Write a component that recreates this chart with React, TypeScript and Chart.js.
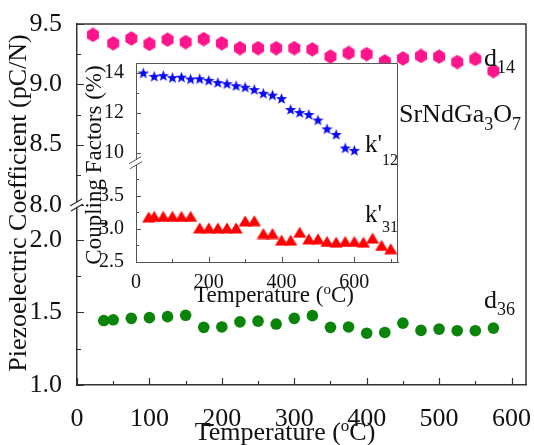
import { useEffect, useRef } from 'react';
import { Chart, registerables } from 'chart.js';

Chart.register(...registerables);

const FAMILY = "'Liberation Serif', 'Times New Roman', serif";
const INK = '#111111';
const AXIS = '#333333';
const INSET_AXIS = '#555555';

// Piezoelectric coefficients d14 / d36 (pC/N) against temperature (°C)
const d14Temps = [22, 50, 75, 100, 125, 150, 175, 200, 225, 250, 275, 300, 325, 350, 375, 400, 425, 450, 475, 500, 525, 550, 575];
const d14Values = [9.41, 9.34, 9.38, 9.335, 9.37, 9.35, 9.375, 9.34, 9.3, 9.3, 9.3, 9.3, 9.29, 9.23, 9.26, 9.25, 9.19, 9.215, 9.235, 9.23, 9.185, 9.21, 9.11];
const d36Temps = [37, 50, 75, 100, 125, 150, 175, 200, 225, 250, 275, 300, 325, 350, 375, 400, 425, 450, 475, 500, 525, 550, 575];
const d36Values = [1.444, 1.449, 1.459, 1.464, 1.471, 1.48, 1.397, 1.4, 1.435, 1.44, 1.42, 1.459, 1.478, 1.397, 1.4, 1.357, 1.362, 1.426, 1.376, 1.385, 1.374, 1.374, 1.392];

// Coupling factors k'12 / k'31 (%) against temperature (°C)
const k12Temps = [20, 50, 75, 100, 125, 150, 175, 200, 225, 250, 275, 300, 325, 350, 375, 400, 425, 450, 475, 500, 525, 550, 575, 600];
const k12Values = [14.0, 13.83, 13.87, 13.77, 13.79, 13.7, 13.71, 13.63, 13.52, 13.46, 13.36, 13.29, 13.17, 12.98, 12.89, 12.72, 12.17, 12.02, 11.92, 11.64, 11.2, 10.92, 10.24, 10.12];
const k31Temps = [35, 50, 75, 100, 125, 150, 175, 200, 225, 250, 275, 300, 325, 350, 375, 400, 425, 450, 475, 500, 525, 550, 575, 600, 625, 650, 675, 700];
const k31Values = [3.18, 3.19, 3.19, 3.19, 3.19, 3.19, 3.015, 3.015, 3.015, 3.015, 3.015, 3.12, 3.125, 2.93, 2.93, 2.83, 2.83, 2.95, 2.85, 2.85, 2.81, 2.8, 2.81, 2.81, 2.8, 2.86, 2.75, 2.7];

// Tick positions
const mainXTicks = [0, 100, 200, 300, 400, 500, 600];
const mainXMinor = [50, 150, 250, 350, 450, 550];
const mainHighTicks = [8.0, 8.5, 9.0, 9.5];
const mainHighMinor = [8.25, 8.75, 9.25];
const mainLowTicks = [1.0, 1.5, 2.0];
const mainLowMinor = [1.25, 1.75];
const insetXTicks = [0, 200, 400, 600];
const insetXMinor = [100, 300, 500, 700];
const insetHighTicks = [10, 12, 14];
const insetHighMinor = [11, 13];
const insetLowTicks = [2.5, 3.0, 3.5];
const insetLowMinor = [2.75, 3.25, 3.75];

const pts = (xs: number[], ys: number[]) => xs.map((x, i) => ({ x, y: ys[i] }));

function markerCanvas(w: number, h: number, draw: (c: CanvasRenderingContext2D) => void) {
  const cv = document.createElement('canvas');
  cv.width = w;
  cv.height = h;
  const c = cv.getContext('2d')!;
  draw(c);
  return cv;
}

function hexagon(color: string) {
  return markerCanvas(14, 15, (c) => {
    c.fillStyle = color;
    c.beginPath();
    for (let k = 0; k < 6; k++) {
      const a = -Math.PI / 2 + (k * Math.PI) / 3;
      const x = 7 + 6.9 * Math.cos(a);
      const y = 7.5 + 7.2 * Math.sin(a);
      if (k === 0) c.moveTo(x, y);
      else c.lineTo(x, y);
    }
    c.closePath();
    c.fill();
  });
}

function star(color: string) {
  return markerCanvas(13, 13, (c) => {
    c.fillStyle = color;
    c.beginPath();
    for (let k = 0; k < 10; k++) {
      const a = -Math.PI / 2 + (k * Math.PI) / 5;
      const r = k % 2 === 0 ? 6 : 2.5;
      const x = 6.5 + r * Math.cos(a);
      const y = 7 + r * Math.sin(a);
      if (k === 0) c.moveTo(x, y);
      else c.lineTo(x, y);
    }
    c.closePath();
    c.fill();
  });
}

function triangle(color: string) {
  return markerCanvas(14, 12, (c) => {
    c.fillStyle = color;
    c.beginPath();
    c.moveTo(7, 0.5);
    c.lineTo(13.6, 11.5);
    c.lineTo(0.4, 11.5);
    c.closePath();
    c.fill();
  });
}

type Run = { t: string; size: number; dy?: number };

function drawRich(ctx: CanvasRenderingContext2D, runs: Run[], x: number, y: number, align: 'left' | 'center') {
  let w = 0;
  for (const r of runs) {
    ctx.font = `${r.size}px ${FAMILY}`;
    w += ctx.measureText(r.t).width;
  }
  let cx = align === 'center' ? x - w / 2 : x;
  ctx.textAlign = 'left';
  for (const r of runs) {
    ctx.font = `${r.size}px ${FAMILY}`;
    ctx.fillText(r.t, cx, y + (r.dy || 0));
    cx += ctx.measureText(r.t).width;
  }
}

function inwardTicks(ctx: CanvasRenderingContext2D, scale: any, values: number[], len: number, horizontal: boolean, area: any) {
  ctx.beginPath();
  for (const v of values) {
    const p = Math.round(scale.getPixelForValue(v)) + 0.5;
    if (horizontal) {
      ctx.moveTo(p, area.bottom);
      ctx.lineTo(p, area.bottom - len);
    } else {
      ctx.moveTo(area.left, p);
      ctx.lineTo(area.left + len, p);
    }
  }
  ctx.stroke();
}

function breakMark(ctx: CanvasRenderingContext2D, x: number, y: number, color: string, width: number) {
  ctx.fillStyle = '#ffffff';
  ctx.fillRect(x - 3, y - 3, 6, 5);
  ctx.strokeStyle = color;
  ctx.lineWidth = width;
  ctx.beginPath();
  ctx.moveTo(x - 7, y + 1);
  ctx.lineTo(x + 5, y - 6);
  ctx.moveTo(x - 6, y + 6);
  ctx.lineTo(x + 6, y - 1);
  ctx.stroke();
}

// Keep label overflow from shrinking the plot area
function fixWidth(w: number) {
  return (s: any) => {
    s.width = w;
    s.paddingTop = 0;
    s.paddingBottom = 0;
  };
}
function fixHeight(h: number) {
  return (s: any) => {
    s.height = h;
    s.paddingLeft = 0;
    s.paddingRight = 0;
  };
}

const mainDecor = {
  id: 'mainDecor',
  afterDraw(chart: any) {
    const { ctx, chartArea: a, scales } = chart;
    ctx.save();
    ctx.strokeStyle = AXIS;
    ctx.lineWidth = 1.5;
    ctx.beginPath();
    ctx.moveTo(a.left, a.top);
    ctx.lineTo(a.right, a.top);
    ctx.lineTo(a.right, a.bottom);
    ctx.stroke();
    ctx.lineWidth = 1.2;
    inwardTicks(ctx, scales.x, mainXTicks, 7, true, a);
    inwardTicks(ctx, scales.x, mainXMinor, 4, true, a);
    inwardTicks(ctx, scales.yHigh, mainHighTicks, 7, false, a);
    inwardTicks(ctx, scales.yHigh, mainHighMinor, 4, false, a);
    inwardTicks(ctx, scales.yLow, mainLowTicks, 7, false, a);
    inwardTicks(ctx, scales.yLow, mainLowMinor, 4, false, a);
    breakMark(ctx, a.left, scales.yHigh.bottom, AXIS, 1.3);

    ctx.fillStyle = INK;
    ctx.textBaseline = 'alphabetic';
    drawRich(ctx, [{ t: 'Temperature (', size: 26 }, { t: 'o', size: 17, dy: -9 }, { t: 'C)', size: 26 }], 285, 440, 'center');
    drawRich(ctx, [{ t: 'd', size: 26 }, { t: '14', size: 18, dy: 7 }], 484, 66, 'left');
    drawRich(ctx, [{ t: 'd', size: 26 }, { t: '36', size: 18, dy: 7 }], 484, 308, 'left');
    drawRich(
      ctx,
      [
        { t: 'SrNdGa', size: 26 },
        { t: '3', size: 18, dy: 8 },
        { t: 'O', size: 26 },
        { t: '7', size: 18, dy: 8 },
      ],
      399,
      122,
      'left'
    );
    ctx.save();
    ctx.translate(19, 203);
    ctx.rotate(-Math.PI / 2);
    ctx.textBaseline = 'middle';
    drawRich(ctx, [{ t: 'Piezoelectric Coefficient (pC/N)', size: 26 }], 0, 0, 'center');
    ctx.restore();
    ctx.restore();
  },
};

const insetDecor = {
  id: 'insetDecor',
  beforeDraw(chart: any) {
    const { ctx, chartArea: a } = chart;
    ctx.save();
    ctx.fillStyle = '#ffffff';
    ctx.fillRect(a.left, a.top, a.right - a.left, a.bottom - a.top);
    ctx.restore();
  },
  afterDraw(chart: any) {
    const { ctx, chartArea: a, scales } = chart;
    ctx.save();
    ctx.strokeStyle = INSET_AXIS;
    ctx.lineWidth = 1;
    ctx.beginPath();
    ctx.moveTo(a.left, a.top + 0.5);
    ctx.lineTo(a.right - 0.5, a.top + 0.5);
    ctx.lineTo(a.right - 0.5, a.bottom);
    ctx.stroke();
    inwardTicks(ctx, scales.x, insetXTicks, 5, true, a);
    inwardTicks(ctx, scales.x, insetXMinor, 3, true, a);
    inwardTicks(ctx, scales.yHigh, insetHighTicks, 5, false, a);
    inwardTicks(ctx, scales.yHigh, insetHighMinor, 3, false, a);
    inwardTicks(ctx, scales.yLow, insetLowTicks, 5, false, a);
    inwardTicks(ctx, scales.yLow, insetLowMinor, 3, false, a);
    breakMark(ctx, a.left, scales.yHigh.bottom, INSET_AXIS, 1);

    ctx.fillStyle = INK;
    ctx.textBaseline = 'alphabetic';
    drawRich(ctx, [{ t: 'Temperature (', size: 23 }, { t: 'o', size: 15, dy: -8 }, { t: 'C)', size: 23 }], 194, 252, 'center');
    drawRich(ctx, [{ t: "k'", size: 25 }, { t: '12', size: 16, dy: 13 }], 285, 101.5, 'left');
    drawRich(ctx, [{ t: "k'", size: 25 }, { t: '31', size: 16, dy: 10 }], 285, 171.5, 'left');
    ctx.save();
    ctx.translate(15, 115);
    ctx.rotate(-Math.PI / 2);
    ctx.textBaseline = 'middle';
    drawRich(ctx, [{ t: 'Coupling Factors (%)', size: 23 }], 0, 0, 'center');
    ctx.restore();
    ctx.restore();
  },
};

function fixedTicks(values: number[]) {
  return (s: any) => {
    s.ticks = values.map((value) => ({ value }));
  };
}

function mainConfig(): any {
  const font = { family: FAMILY, size: 26 };
  const yBase = {
    type: 'linear',
    position: 'left',
    stack: 'piezo',
    grid: { display: false },
    border: { color: AXIS, width: 1.5 },
    ticks: { font, color: INK, padding: 7, callback: (v: number) => v.toFixed(1) },
    afterFit: fixWidth(77),
  };
  return {
    type: 'scatter',
    data: {
      datasets: [
        {
          data: pts(d14Temps, d14Values),
          yAxisID: 'yHigh',
          pointStyle: hexagon('#ff148c'),
          pointRadius: 7,
        },
        {
          data: pts(d36Temps, d36Values),
          yAxisID: 'yLow',
          pointStyle: 'circle',
          pointRadius: 5.8,
          backgroundColor: '#0a850a',
          borderWidth: 0,
        },
      ],
    },
    options: {
      responsive: false,
      animation: false,
      layout: { padding: { top: 24, right: 8, left: 0, bottom: 0 } },
      plugins: { legend: { display: false }, tooltip: { enabled: false } },
      scales: {
        x: {
          type: 'linear',
          min: 0,
          max: 620,
          grid: { display: false },
          border: { color: AXIS, width: 1.5 },
          ticks: { font, color: INK, padding: 11, callback: (v: number) => String(v) },
          afterBuildTicks: fixedTicks(mainXTicks),
          afterFit: fixHeight(60),
        },
        yLow: { ...yBase, min: 1.0, max: 2.24, stackWeight: 179.5, afterBuildTicks: fixedTicks(mainLowTicks) },
        yHigh: { ...yBase, min: 8.0, max: 9.5, stackWeight: 180.5, afterBuildTicks: fixedTicks(mainHighTicks) },
      },
    },
    plugins: [mainDecor],
  };
}

function insetConfig(): any {
  const font = { family: FAMILY, size: 20 };
  const yBase = {
    type: 'linear',
    position: 'left',
    stack: 'coupling',
    grid: { display: false },
    border: { color: INSET_AXIS, width: 1 },
    afterFit: fixWidth(56),
  };
  return {
    type: 'scatter',
    data: {
      datasets: [
        {
          data: pts(k12Temps, k12Values),
          yAxisID: 'yHigh',
          pointStyle: star('#0a0af5'),
          pointRadius: 6,
        },
        {
          data: pts(k31Temps, k31Values),
          yAxisID: 'yLow',
          pointStyle: triangle('#ff0000'),
          pointRadius: 6,
        },
      ],
    },
    options: {
      responsive: false,
      animation: false,
      layout: { padding: { top: 13, right: 7, left: 0, bottom: 0 } },
      plugins: { legend: { display: false }, tooltip: { enabled: false } },
      scales: {
        x: {
          type: 'linear',
          min: 0,
          max: 720,
          grid: { display: false },
          border: { color: INSET_AXIS, width: 1 },
          ticks: { font, color: INK, padding: 1, callback: (v: number) => String(v) },
          afterBuildTicks: fixedTicks(insetXTicks),
          afterFit: fixHeight(50),
        },
        yLow: {
          ...yBase,
          min: 2.5,
          max: 4.0,
          stackWeight: 99.5,
          ticks: { font, color: INK, padding: 4, callback: (v: number) => v.toFixed(1) },
          afterBuildTicks: fixedTicks(insetLowTicks),
        },
        yHigh: {
          ...yBase,
          min: 9.5,
          max: 14.5,
          stackWeight: 100,
          ticks: { font, color: INK, padding: 4, callback: (v: number) => String(v) },
          afterBuildTicks: fixedTicks(insetHighTicks),
        },
      },
    },
    plugins: [insetDecor],
  };
}

export default function App() {
  const mainRef = useRef<HTMLCanvasElement>(null);
  const insetRef = useRef<HTMLCanvasElement>(null);

  useEffect(() => {
    const main = new Chart(mainRef.current!, mainConfig());
    const inset = new Chart(insetRef.current!, insetConfig());
    return () => {
      main.destroy();
      inset.destroy();
    };
  }, []);

  return (
    <div style={{ position: 'absolute', left: 0, top: 0, width: 534, height: 445, background: '#ffffff' }}>
      <canvas ref={mainRef} width={534} height={445} style={{ position: 'absolute', left: 0, top: 0, width: 534, height: 445 }} />
      <canvas ref={insetRef} width={325} height={262} style={{ position: 'absolute', left: 80, top: 50, width: 325, height: 262 }} />
    </div>
  );
}
